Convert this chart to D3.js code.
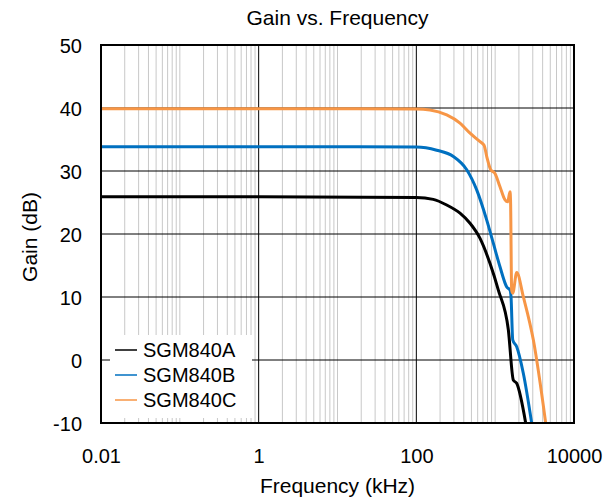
<!DOCTYPE html>
<html>
<head>
<meta charset="utf-8">
<script src="https://d3js.org/d3.v7.min.js"></script>
<style>
  body { margin: 0; background: #fff; }
  text { font-family: "Liberation Sans", Arial, sans-serif; fill: #000; }
</style>
</head>
<body>
<svg width="616" height="502"></svg>
<script>
// frequency (kHz) and gain (dB)
const freqA = [0.01, 1, 100, 164, 243, 358, 480, 643, 861, 1097, 1469, 1700, 1876, 2438];
const gainA = [25.9, 25.9, 25.8, 25.5, 24.6, 23.3, 21.7, 19.3, 15.3, 11.1, 4.8, -3.2, -3.7, -10];

const freqB = [0.01, 1, 100, 181, 295, 436, 583, 782, 949, 1151, 1402, 1543, 1589, 1670, 1876, 2275, 2904];
const gainB = [33.85, 33.85, 33.8, 33.3, 32.3, 30.2, 27.0, 22.2, 18.5, 14.8, 11.6, 11.1, 10.05, 3.2, 2.1, -2.1, -10];

const freqC = [0.01, 1, 100, 149, 243, 358, 480, 643, 723, 782, 879, 995, 1151, 1334, 1442, 1542, 1567, 1618, 1670, 1876, 2275, 3048, 4375];
const gainC = [39.9, 39.9, 39.85, 39.7, 38.9, 37.6, 36.0, 34.65, 34.1, 32.3, 30.2, 29.6, 27.5, 25.4, 25.1, 26.7, 25.4, 11.1, 10.6, 13.9, 10.05, 3.2, -10];

const seriesNames = ['SGM840A', 'SGM840B', 'SGM840C'];
const seriesColors = ['#000000', '#0070C0', '#F79646'];
const yTicks = [-10, 0, 10, 20, 30, 40, 50];
const xTickLabels = [0.01, 1, 100, 10000];

const series = [
  { name: seriesNames[0], color: seriesColors[0], f: freqA, g: gainA },
  { name: seriesNames[1], color: seriesColors[1], f: freqB, g: gainB },
  { name: seriesNames[2], color: seriesColors[2], f: freqC, g: gainC }
];

const margin = { left: 101, right: 42, top: 45, bottom: 79 };
const svg = d3.select('svg');
const width = +svg.attr('width');
const height = +svg.attr('height');
const innerWidth = width - margin.left - margin.right;
const innerHeight = height - margin.top - margin.bottom;

const xScale = d3.scaleLog().domain([0.01, 10000]).range([0, innerWidth]);
const yScale = d3.scaleLinear().domain([-10, 50]).range([innerHeight, 0]);

const g = svg.append('g').attr('transform', `translate(${margin.left},${margin.top})`);

// minor vertical gridlines (gray)
const minor = [];
for (let e = -2; e < 4; e++) {
  for (let m = 1; m <= 9; m++) {
    const v = m * Math.pow(10, e);
    if (m === 1 && (e === -2 || e === 0 || e === 2)) continue;
    minor.push(v);
  }
}
g.selectAll('.minor').data(minor).enter().append('line')
  .attr('x1', d => xScale(d)).attr('x2', d => xScale(d))
  .attr('y1', 0).attr('y2', innerHeight)
  .attr('stroke', '#c8c8c8').attr('stroke-width', 1);

// major vertical gridlines
g.selectAll('.major').data([1, 100]).enter().append('line')
  .attr('x1', d => xScale(d)).attr('x2', d => xScale(d))
  .attr('y1', 0).attr('y2', innerHeight)
  .attr('stroke', '#000').attr('stroke-width', 1);

// horizontal gridlines
g.selectAll('.hgrid').data(yTicks.slice(1, -1)).enter().append('line')
  .attr('x1', 0).attr('x2', innerWidth)
  .attr('y1', d => yScale(d)).attr('y2', d => yScale(d))
  .attr('stroke', '#000').attr('stroke-width', 1);

// tick labels via d3 axes, no lines
const yAxisG = g.append('g').call(d3.axisLeft(yScale).tickValues(yTicks).tickFormat(d => String(d)).tickSize(0).tickPadding(19));
const xAxisG = g.append('g').attr('transform', `translate(0,${innerHeight})`)
  .call(d3.axisBottom(xScale).tickValues(xTickLabels).tickFormat(d => String(d)).tickSize(0).tickPadding(25));
[yAxisG, xAxisG].forEach(a => {
  a.select('.domain').remove();
  a.selectAll('text').attr('font-size', '20px').attr('font-family', '"Liberation Sans", Arial, sans-serif').attr('fill', '#000').attr('dy', null);
});
yAxisG.selectAll('text').attr('y', 7);
xAxisG.selectAll('text').attr('y', 40);

// curves
const line = d3.line().x(d => xScale(d[0])).y(d => yScale(d[1])).curve(d3.curveMonotoneX);
g.append('defs').append('clipPath').attr('id', 'clip')
  .append('rect').attr('width', innerWidth).attr('height', innerHeight);
series.forEach(s => {
  g.append('path')
    .datum(s.f.map((f, i) => [f, s.g[i]]))
    .attr('d', line)
    .attr('fill', 'none')
    .attr('stroke', s.color)
    .attr('stroke-width', 3)
    .attr('stroke-linejoin', 'round')
    .attr('clip-path', 'url(#clip)');
});

// legend
const leg = g.append('g').attr('transform', 'translate(9,290)');
leg.append('rect').attr('width', 142).attr('height', 83).attr('fill', '#fff');
series.forEach((s, i) => {
  const y = 15 + i * 25;
  leg.append('line').attr('x1', 5).attr('x2', 27).attr('y1', y).attr('y2', y)
    .attr('stroke', s.color).attr('stroke-width', 1.5);
  leg.append('text').attr('x', 33).attr('y', y + 7).attr('font-size', '20px').text(s.name);
});

// border
g.append('rect').attr('width', innerWidth).attr('height', innerHeight)
  .attr('fill', 'none').attr('stroke', '#000').attr('stroke-width', 2);

// titles
svg.append('text').attr('x', margin.left + innerWidth / 2).attr('y', 25)
  .attr('text-anchor', 'middle').attr('font-size', '21px').text('Gain vs. Frequency');
svg.append('text').attr('x', margin.left + innerWidth / 2).attr('y', 493)
  .attr('text-anchor', 'middle').attr('font-size', '21px').text('Frequency (kHz)');
svg.append('text').attr('transform', `translate(37,${margin.top + innerHeight / 2 + 3}) rotate(-90)`)
  .attr('text-anchor', 'middle').attr('font-size', '21px').text('Gain (dB)');
</script>
</body>
</html>
